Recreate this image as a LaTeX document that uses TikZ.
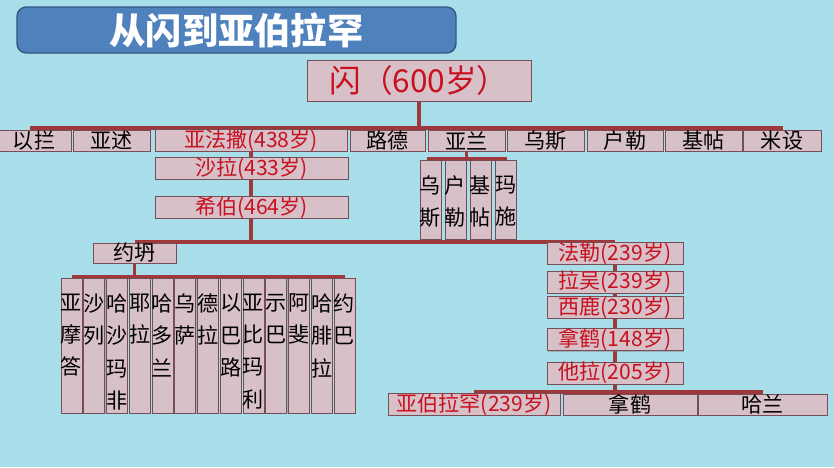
\documentclass[tikz,border=0pt]{standalone}
\usepackage{fontspec}
\newfontfamily\cjk{Noto Sans CJK SC}
\usetikzlibrary{shadows}
\definecolor{waterBlue}{RGB}{168,222,233}
\definecolor{titleBlue}{RGB}{79,129,189}
\definecolor{titleEdge}{RGB}{52,86,128}
\definecolor{boxPink}{RGB}{216,192,200}
\definecolor{boxEdge}{RGB}{120,78,86}
\definecolor{ageRed}{RGB}{200,16,30}
\definecolor{lineRed}{RGB}{158,56,58}
\pgfdeclarelayer{bg}
\pgfdeclarelayer{wires}
\pgfsetlayers{bg,wires,main}

\begin{document}
\begin{tikzpicture}[x=0.03cm, y=-0.03cm,
	box/.style={draw=boxEdge, fill=boxPink, line width=0.7pt, inner sep=0pt, minimum height=0.63cm,
		drop shadow={shadow xshift=0.8pt, shadow yshift=-0.8pt, opacity=0.45},
		font=\cjk\fontsize{18}{27}\selectfont},
	age/.style={text=ageRed},
	vlab/.style={anchor=north, inner sep=0pt, yshift=-0.47cm, align=center, font=\cjk\fontsize{18}{27.5}\selectfont},
	vbox/.style={box, anchor=north, minimum width=0.63cm, label={[vlab]north:{#1}}},
	wire/.style={draw=lineRed, line width=2.8pt}]
		\useasboundingbox (0,0) rectangle (834,467);
		\begin{pgfonlayer}{bg}
			\fill[waterBlue] (0,0) rectangle (834,467);
		\end{pgfonlayer}
		%%%%%%%%%%%%%
		\node[draw=titleEdge, fill=titleBlue, rounded corners=8pt, line width=1.2pt,
			minimum width=13.17cm, minimum height=1.38cm, text=white,
			font=\cjk\bfseries\fontsize{31}{31}\selectfont] (title) at (236.5, 30) {从闪到亚伯拉罕};
		\node[box, age, minimum width=6.72cm, minimum height=1.23cm, font=\cjk\fontsize{27}{27}\selectfont] (shem) at (419, 80.5) {闪（600岁）};
		%%%%%%%%%%%%%
		\node[box, minimum width=2.22cm] (elam) at (34, 140.5) {以拦};
		\node[box, minimum width=2.31cm] (asshur) at (111.5, 140.5) {亚述};
		\node[box, age, minimum width=5.76cm] (arpha) at (251, 140.5) {亚法撒(438岁)};
		\node[box, minimum width=2.25cm] (lud) at (387.5, 140.5) {路德};
		\node[box, minimum width=2.31cm] (aram) at (466.5, 140.5) {亚兰};
		\node[box, minimum width=2.31cm] (uz) at (545.5, 140.5) {乌斯};
		\node[box, minimum width=2.28cm] (hul) at (625, 140.5) {户勒};
		\node[box, minimum width=2.31cm] (gether) at (703.5, 140.5) {基帖};
		\node[box, minimum width=2.34cm] (meshech) at (782, 140.5) {米设};
		%%%%%%%%%%%%%
		\node[vbox={乌\\斯}, minimum height=2.37cm] (uzA) at (430.5, 160) {};
		\node[vbox={户\\勒}, minimum height=2.37cm] (hulA) at (455.5, 160) {};
		\node[vbox={基\\帖}, minimum height=2.37cm] (getherA) at (480.5, 160) {};
		\node[vbox={玛\\施}, minimum height=2.37cm] (mash) at (506, 160) {};
		%%%%%%%%%%%%%
		\node[box, age, minimum width=5.79cm] (shelah) at (251.5, 168.5) {沙拉(433岁)};
		\node[box, age, minimum width=5.79cm] (eber) at (251.5, 207.5) {希伯(464岁)};
		\node[box, minimum width=2.49cm, minimum height=0.6cm] (joktan) at (134.5, 253) {约坍};
		%%%%%%%%%%%%%
		\node[vbox={亚\\摩\\答}, minimum height=4.05cm] (almodad) at (71.5, 278) {};
		\node[vbox={沙\\列}, minimum height=4.05cm] (sheleph) at (94.25, 278) {};
		\node[vbox={哈\\沙\\玛\\非}, minimum height=4.05cm] (hazar) at (117, 278) {};
		\node[vbox={耶\\拉}, minimum height=4.05cm] (jerah) at (139.75, 278) {};
		\node[vbox={哈\\多\\兰}, minimum height=4.05cm] (hadoram) at (162.5, 278) {};
		\node[vbox={乌\\萨}, minimum height=4.05cm] (uzal) at (185.25, 278) {};
		\node[vbox={德\\拉}, minimum height=4.05cm] (diklah) at (208, 278) {};
		\node[vbox={以\\巴\\路}, minimum height=4.05cm] (obal) at (230.75, 278) {};
		\node[vbox={亚\\比\\玛\\利}, minimum height=4.05cm] (abimael) at (253.5, 278) {};
		\node[vbox={示\\巴}, minimum height=4.05cm] (sheba) at (276.25, 278) {};
		\node[vbox={阿\\斐}, minimum height=4.05cm] (ophir) at (299, 278) {};
		\node[vbox={哈\\腓\\拉}, minimum height=4.05cm] (havilah) at (321.75, 278) {};
		\node[vbox={约\\巴}, minimum height=4.05cm] (jobab) at (344.5, 278) {};
		%%%%%%%%%%%%%
		\node[box, age, minimum width=4.08cm] (peleg) at (615, 253.5) {法勒(239岁)};
		\node[box, age, minimum width=4.08cm, minimum height=0.6cm] (reu) at (615, 282) {拉吴(239岁)};
		\node[box, age, minimum width=4.08cm] (serug) at (615, 307.5) {西鹿(230岁)};
		\node[box, age, minimum width=4.08cm] (nahor) at (615, 339.5) {拿鹤(148岁)};
		\node[box, age, minimum width=4.08cm, minimum height=0.6cm] (terah) at (615, 373) {他拉(205岁)};
		\node[box, age, minimum width=5.16cm] (abram) at (474, 404.5) {亚伯拉罕(239岁)};
		\node[box, minimum width=4.02cm] (nahorB) at (630, 404.5) {拿鹤};
		\node[box, minimum width=3.87cm] (haran) at (762.5, 404.5) {哈兰};
		%%%%%%%%%%%%%
		\coordinate (shemL) at (30, 128); \coordinate (shemR) at (783, 128);
		\coordinate (aramL) at (427, 159); \coordinate (aramR) at (507, 159);
		\coordinate (eberL) at (134.5, 242); \coordinate (eberR) at (615, 242);
		\coordinate (jokL) at (71.5, 277); \coordinate (jokR) at (344.5, 277);
		\coordinate (terL) at (474, 392); \coordinate (terR) at (762.5, 392);
		\begin{pgfonlayer}{wires}
			\draw[wire] (shemL) to (shemR); \draw[wire] (shem) to (shem |- shemL);
			\draw[wire] (aramL) to (aramR); \draw[wire] (aram) to (aram |- aramL);
			\draw[wire] (eberL) to (eberR); \draw[wire] (arpha) to (arpha |- eberL);
			\draw[wire] (jokL) to (jokR); \draw[wire] (joktan) to (joktan |- jokL);
			\draw[wire] (terL) to (terR); \draw[wire] (peleg) to (peleg |- terL);
		\end{pgfonlayer}
\end{tikzpicture}
\end{document}
